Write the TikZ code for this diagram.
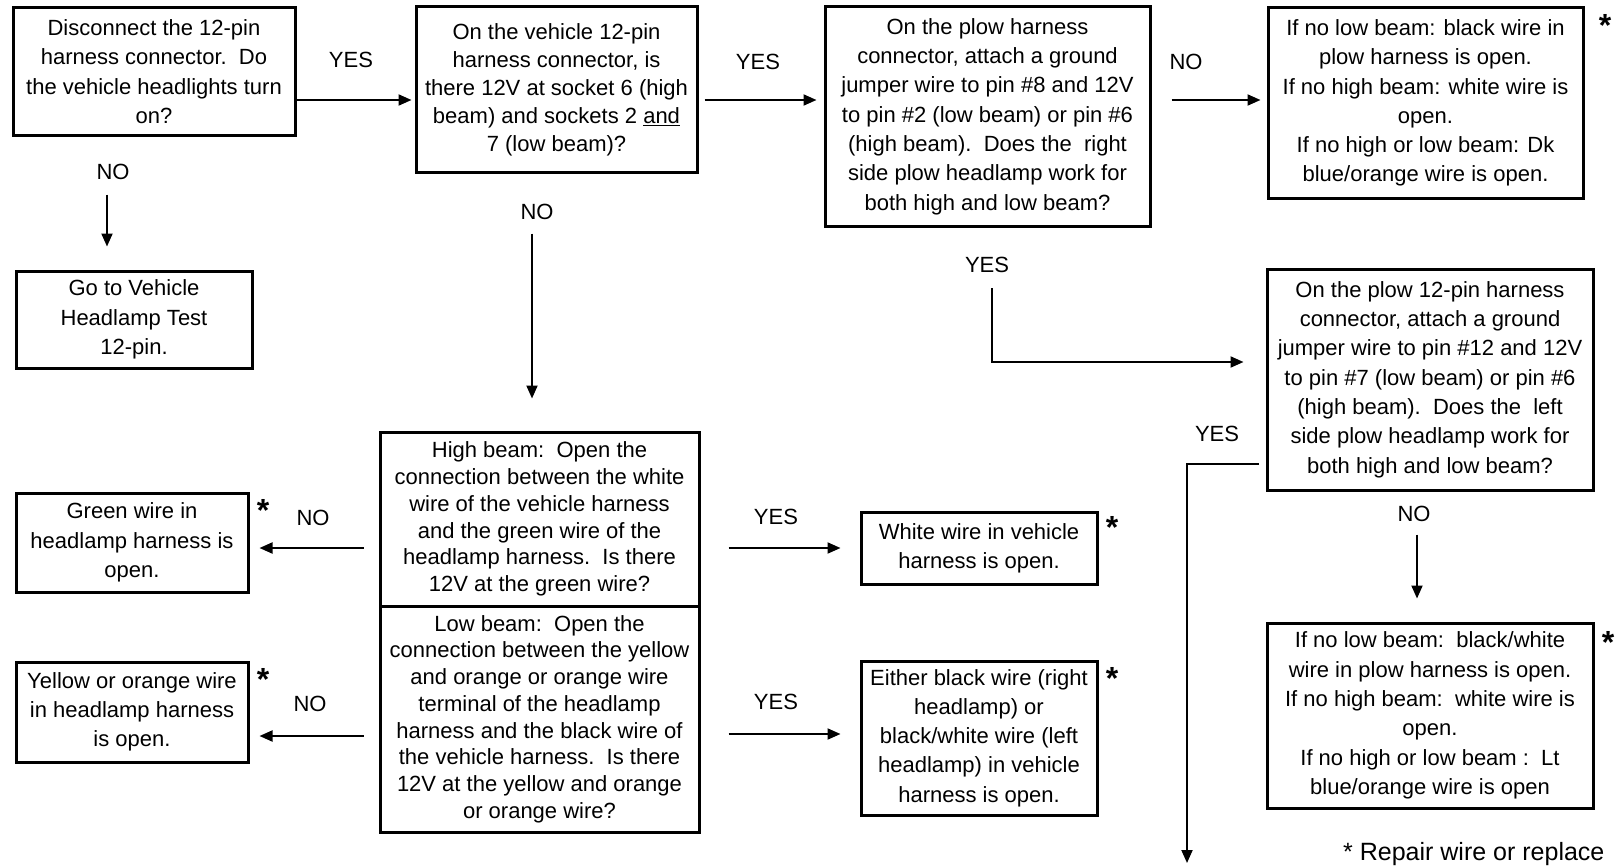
\documentclass[tikz,border=0pt]{standalone}
\usepackage{fontspec}
\setmainfont{Liberation Sans}
\usetikzlibrary{arrows.meta}
\begin{document}
\begin{tikzpicture}[x=1pt,y=-1pt,
  box/.style={draw, line width=3pt, align=center, inner sep=0pt, font=\fontsize{22}{29.3}\selectfont},
  cell/.style={box, font=\fontsize{22}{26.7}\selectfont},
  arr/.style={line width=2pt, -{Triangle[length=13pt,width=11pt]}},
  lab/.style={font=\fontsize{22}{26}\selectfont, inner sep=0pt},
  star/.style={font=\bfseries\fontsize{32}{32}\selectfont, inner sep=0pt, anchor=base},
]
\useasboundingbox (0,0) rectangle (1619,867);

% boxes
\node[box, minimum width=282pt, minimum height=127pt] (b1) at (154,71.5)
  {Disconnect the 12-pin\\harness connector.\ \ Do\\the vehicle headlights turn\\on?};
\node[box, font=\fontsize{22}{28}\selectfont, minimum width=281pt, minimum height=165pt] (b2) at (556.5,89.5)
  {On the vehicle 12-pin\\harness connector, is\\there 12V at socket 6 (high\\beam) and sockets 2 \underline{and}\\7 (low beam)?};
\node[box, minimum width=325pt, minimum height=219pt] (b3) at (987.5,116.5)
  {On the plow harness\\connector, attach a ground\\jumper wire to pin \#8 and 12V\\to pin \#2 (low beam) or pin \#6\\(high beam).\ \ Does the\ \ right\\side plow headlamp work for\\both high and low beam?};
\node[box, minimum width=315pt, minimum height=190pt] (b4) at (1425.5,103)
  {If no low beam: black wire in\\plow harness is open.\\If no high beam: white wire is\\open.\\If no high or low beam: Dk\\blue/orange wire is open.};
\node[box, minimum width=236pt, minimum height=97pt] (go) at (134,319.5)
  {Go to Vehicle\\Headlamp Test\\12-pin.};
\node[box, minimum width=326pt, minimum height=221pt] (b5) at (1430,379.5)
  {On the plow 12-pin harness\\connector, attach a ground\\jumper wire to pin \#12 and 12V\\to pin \#7 (low beam) or pin \#6\\(high beam).\ \ Does the\ \ left\\side plow headlamp work for\\both high and low beam?};
\node[box, minimum width=326pt, minimum height=185pt] (b6) at (1430,715.5)
  {If no low beam:\ \ black/white\\wire in plow harness is open.\\If no high beam:\ \ white wire is\\open.\\If no high or low beam :\ \ Lt\\blue/orange wire is open};
\node[cell, minimum width=319pt, minimum height=174pt] (hi) at (539.5,519)
  {High beam:\ \ Open the\\connection between the white\\wire of the vehicle harness\\and the green wire of the\\headlamp harness.\ \ Is there\\12V at the green wire?};
\node[cell, minimum width=319pt, minimum height=226pt] (lo) at (539.5,719)
  {Low beam:\ \ Open the\\connection between the yellow\\and orange or orange wire\\terminal of the headlamp\\harness and the black wire of\\the vehicle harness.\ \ Is there\\12V at the yellow and orange\\or orange wire?};
\node[box, minimum width=232pt, minimum height=99pt] (gr) at (132,542.5)
  {Green wire in\\headlamp harness is\\open.};
\node[box, minimum width=232pt, minimum height=100pt] (ye) at (132,712)
  {Yellow or orange wire\\in headlamp harness\\is open.};
\node[box, minimum width=236pt, minimum height=72pt] (wh) at (979,548)
  {White wire in vehicle\\harness is open.};
\node[box, minimum width=236pt, minimum height=154pt] (ei) at (979,738)
  {Either black wire (right\\headlamp) or\\black/white wire (left\\headlamp) in vehicle\\harness is open.};

% asterisks
\node[star] (s1) at (1605,37) {*};
\node[star] (s2) at (263,521) {*};
\node[star] (s3) at (263,690) {*};
\node[star] (s4) at (1112,538) {*};
\node[star] (s5) at (1112,689) {*};
\node[star] (s6) at (1608,653) {*};

% labels
\node[lab] (l1) at (351,60) {YES};
\node[lab] (l2) at (758,62) {YES};
\node[lab] (l3) at (1186,62) {NO};
\node[lab] (l4) at (113,172) {NO};
\node[lab] (l5) at (537,212) {NO};
\node[lab] (l6) at (987,265) {YES};
\node[lab] (l7) at (1217,434) {YES};
\node[lab] (l8) at (1414,514) {NO};
\node[lab] (l9) at (313,518) {NO};
\node[lab] (l10) at (310,704) {NO};
\node[lab] (l11) at (776,517) {YES};
\node[lab] (l12) at (776,702) {YES};

% row / column coordinates
\coordinate (r1) at (0,100);
\coordinate (rh) at (0,548);
\coordinate (rl) at (0,736);
\coordinate (rl2) at (0,734);
\coordinate (cA) at (107,0);
\coordinate (cB) at (532,0);
\coordinate (cC) at (1417,0);

% connectors
\draw[arr, shorten >=3pt] (b1.east |- r1) -- (b2.west |- r1);
\draw[arr, shorten <=6pt, shorten >=7pt] (b2.east |- r1) -- (b3.west |- r1);
\draw[arr, shorten <=20pt, shorten >=6pt] (b3.east |- r1) -- (b4.west |- r1);
\draw[arr, shorten <=58pt, shorten >=23pt] (b1.south -| cA) -- (go.north -| cA);
\draw[arr, shorten <=60pt, shorten >=32pt] (b2.south -| cB) -- (hi.north -| cB);
\draw[arr, shorten <=43pt, shorten >=23pt] (b5.south -| cC) -- (b6.north -| cC);
\coordinate (y3a) at (992,288);
\coordinate (y3b) at (992,362);
\draw[arr, shorten >=22pt] (y3a) -- (y3b) -- (b5.west |- y3b);
\coordinate (y5a) at (1259,464);
\coordinate (y5b) at (1187,464);
\coordinate (y5c) at (1187,863);
\draw[arr] (y5a) -- (y5b) -- (y5c);
\draw[arr, shorten <=15pt, shorten >=10pt] (hi.west |- rh) -- (gr.east |- rh);
\draw[arr, shorten <=15pt, shorten >=10pt] (lo.west |- rl) -- (ye.east |- rl);
\draw[arr, shorten <=28pt, shorten >=19pt] (hi.east |- rh) -- (wh.west |- rh);
\draw[arr, shorten <=28pt, shorten >=19pt] (lo.east |- rl2) -- (ei.west |- rl2);

% footnote
\node[font=\fontsize{25}{30}\selectfont, anchor=base west, inner sep=0pt] (fn) at (1343,860) {* Repair wire or replace};
\end{tikzpicture}
\end{document}
